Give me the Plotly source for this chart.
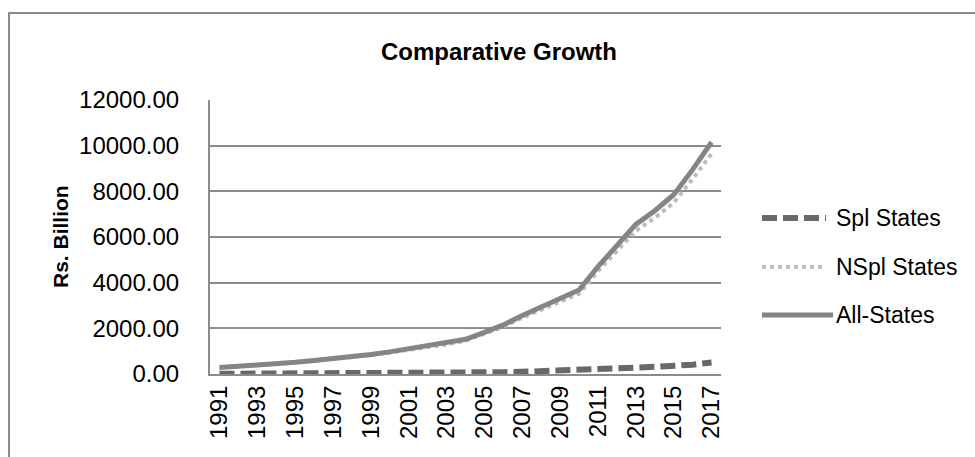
import plotly.graph_objects as go

# Years on the category axis
years = [str(y) for y in range(1991, 2018)]
tick_years = [str(y) for y in range(1991, 2018, 2)]

# Outstanding amounts, Rs. Billion
spl_states = [8, 9, 11, 12, 14, 16, 18, 21, 25, 30, 35, 42, 50, 58, 68, 80,
              95, 115, 138, 165, 200, 240, 280, 315, 350, 410, 500]
nspl_states = [272, 321, 369, 428, 496, 574, 652, 739, 825, 940, 1065, 1178,
               1290, 1462, 1752, 2070, 2465, 2805, 3142, 3515, 4500, 5410,
               6270, 6835, 7500, 8540, 9650]
all_states = [280, 330, 380, 440, 510, 590, 670, 760, 850, 970, 1100, 1220,
              1340, 1520, 1820, 2150, 2560, 2920, 3280, 3680, 4700, 5650,
              6550, 7150, 7850, 8950, 10150]

series_names = ["Spl States", "NSpl States", "All-States"]
series_values = [spl_states, nspl_states, all_states]
series_colors = ["#686868", "#bcbcbc", "#858585"]
series_widths = [6, 4, 5]
series_dash = ["15px,6px", "4px,4px", "solid"]

FONT = "Liberation Sans"

fig = go.Figure()
for name, vals, col, w, d in zip(series_names, series_values, series_colors,
                                 series_widths, series_dash):
    fig.add_trace(go.Scatter(x=years, y=vals, name=name, mode="lines",
                             line=dict(color=col, width=w, dash=d),
                             showlegend=False))

# Plot geometry (pixels) used for the hand-placed legend and frame
L, R, T, B = 210, 721, 100, 374
PW, PH = R - L, B - T


def px_x(x):
    return (x - L) / PW


def px_y(y):
    return (B - y) / PH


shapes = []
annotations = []

# Legend entries
legend_rows = [218, 267, 315]
for name, col, w, d, yy in zip(series_names, series_colors, series_widths,
                               series_dash, legend_rows):
    x_end = 833 if d == "solid" else 826
    shapes.append(dict(type="line", xref="paper", yref="paper",
                       x0=px_x(762), x1=px_x(x_end), y0=px_y(yy), y1=px_y(yy),
                       line=dict(color=col, width=w, dash=d)))
    annotations.append(dict(text=name, xref="paper", yref="paper",
                            x=px_x(834), y=px_y(yy), xanchor="left",
                            yanchor="middle", showarrow=False,
                            font=dict(family=FONT, size=23, color="#000000")))

# Y-axis title
annotations.append(dict(text="<b>Rs. Billion</b>", xref="paper", yref="paper",
                        x=px_x(60), y=px_y(237), xanchor="center",
                        yanchor="middle", textangle=-90, showarrow=False,
                        font=dict(family=FONT, size=21, color="#000000")))

# Chart frame
shapes.append(dict(type="rect", xref="paper", yref="paper",
                   x0=px_x(9), x1=px_x(990), y0=px_y(470), y1=px_y(13),
                   line=dict(color="#8c8c8c", width=2), layer="below"))

fig.update_layout(
    width=975, height=457,
    margin=dict(l=L, r=975 - R, t=T, b=457 - B),
    paper_bgcolor="white", plot_bgcolor="white",
    title=dict(text="<b>Comparative Growth</b>", x=499 / 975,
               y=1 - 52 / 457, xanchor="center", yanchor="middle",
               font=dict(family=FONT, size=24, color="#000000")),
    xaxis=dict(type="category", range=[-0.5, len(years) - 0.5],
               tickmode="array", tickvals=tick_years, ticktext=tick_years,
               tickangle=-90, showgrid=False, showline=True,
               linecolor="#8c8c8c", linewidth=2, ticks="",
               tickfont=dict(family=FONT, size=24, color="#000000")),
    yaxis=dict(range=[0, 12000], dtick=2000, tickformat=".2f",
               showgrid=True, gridcolor="#8c8c8c", gridwidth=1.5,
               showline=True, linecolor="#8c8c8c", linewidth=2,
               zeroline=False, ticks="", ticklabelstandoff=24,
               tickfont=dict(family=FONT, size=24, color="#000000")),
    shapes=shapes, annotations=annotations, showlegend=False,
)

fig.write_html("out.html")
